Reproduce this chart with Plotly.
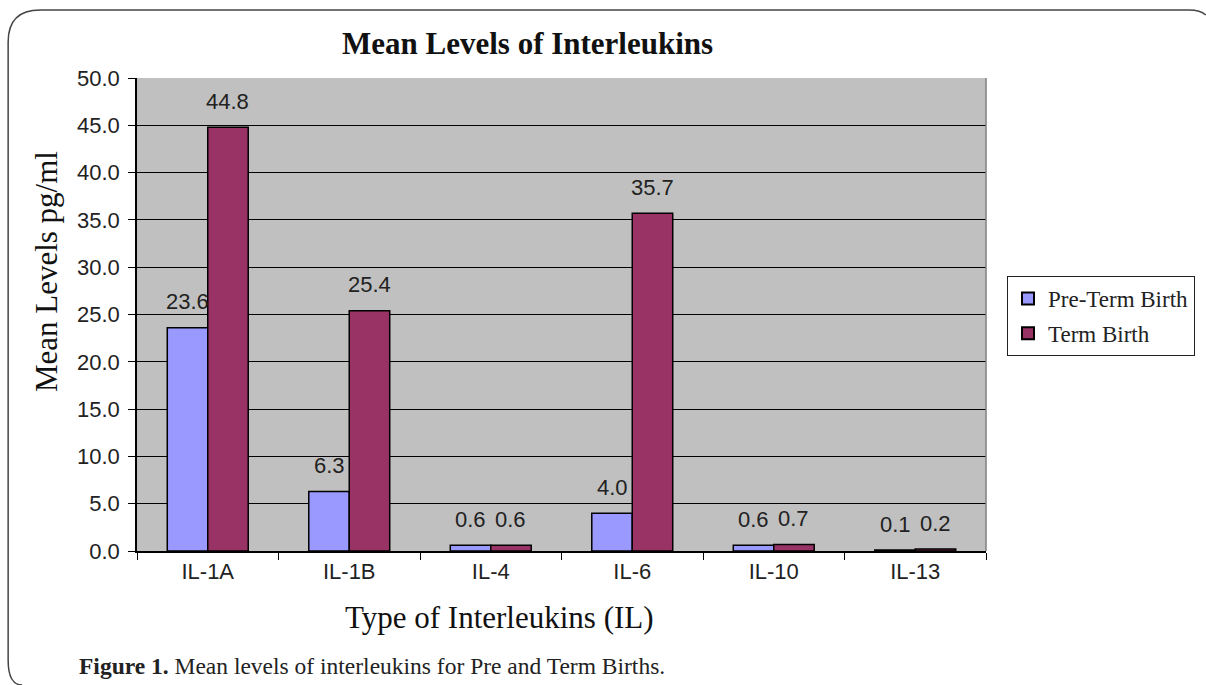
import plotly.graph_objects as go

categories = ["IL-1A", "IL-1B", "IL-4", "IL-6", "IL-10", "IL-13"]
preterm = [23.6, 6.3, 0.6, 4.0, 0.6, 0.1]
term = [44.8, 25.4, 0.6, 35.7, 0.7, 0.2]
series_names = ["Pre-Term Birth", "Term Birth"]
y_ticks = [0, 5, 10, 15, 20, 25, 30, 35, 40, 45, 50]

W, H = 1206, 685
L, R, T, B = 137, 987, 78, 551  # plot area in pixels


def px(x):
    return (x - L) / (R - L)


def py(y):
    return (B - y) / (B - T)


SERIF = "Liberation Serif"
SANS = "Liberation Sans"

fig = go.Figure()
fig.add_trace(go.Bar(x=categories, y=preterm, name=series_names[0], legendgroup="a",
                     marker=dict(color="#9999FF", line=dict(color="black", width=1.5))))
fig.add_trace(go.Bar(x=categories, y=term, name=series_names[1], legendgroup="b",
                     marker=dict(color="#993366", line=dict(color="black", width=1.5))))

annotations = []
for cat, a, b in zip(categories, preterm, term):
    annotations.append(dict(x=cat, y=a, xref="x", yref="y", text=f"{a:.1f}", showarrow=False,
                            xshift=-20, yshift=26, yanchor="middle",
                            font=dict(family=SANS, size=22, color="#222")))
    annotations.append(dict(x=cat, y=b, xref="x", yref="y", text=f"{b:.1f}", showarrow=False,
                            xshift=20, yshift=26, yanchor="middle",
                            font=dict(family=SANS, size=22, color="#222")))

annotations += [
    dict(text="<b>Mean Levels of Interleukins</b>", x=px(528), y=py(43), xref="paper", yref="paper",
         showarrow=False, xanchor="center", yanchor="middle", font=dict(family=SERIF, size=31, color="#111")),
    dict(text="Mean Levels pg/ml", x=px(46), y=py(272), xref="paper", yref="paper", textangle=-90,
         showarrow=False, xanchor="center", yanchor="middle", font=dict(family=SERIF, size=31, color="#111")),
    dict(text="Type of Interleukins (IL)", x=px(500), y=py(617), xref="paper", yref="paper",
         showarrow=False, xanchor="center", yanchor="middle", font=dict(family=SERIF, size=31, color="#111")),
    dict(text="<b>Figure 1.</b> Mean levels of interleukins for Pre and Term Births.", x=px(77), y=py(666),
         xref="paper", yref="paper", showarrow=False, xanchor="left", yanchor="middle",
         font=dict(family=SERIF, size=23.5, color="#222")),
]

border_path = (f"M {px(22)},{py(685)} Q {px(8)},{py(685)} {px(8)},{py(660)} "
               f"L {px(8)},{py(42)} Q {px(8)},{py(10)} {px(40)},{py(10)} "
               f"L {px(1190)},{py(10)} Q {px(1202)},{py(10)} {px(1207)},{py(15)}")

shapes = [
    dict(type="path", path=border_path, xref="paper", yref="paper",
         line=dict(color="#444", width=1.5)),
    dict(type="line", x0=1, x1=1, y0=0, y1=1, xref="paper", yref="paper",
         line=dict(color="#808080", width=1.5)),
]

fig.update_layout(
    width=W, height=H,
    margin=dict(l=L, r=W - R, t=T, b=H - B, pad=0),
    paper_bgcolor="white", plot_bgcolor="#C0C0C0",
    barmode="group", bargap=0.428, bargroupgap=0,
    showlegend=True,
    legend=dict(x=px(1007), y=py(276), xanchor="left", yanchor="top",
                bordercolor="#222", borderwidth=1, bgcolor="white",
                font=dict(family=SERIF, size=23, color="#222"), tracegroupgap=2,
                itemsizing="constant"),
    annotations=annotations,
    shapes=shapes,
    xaxis=dict(showline=True, linecolor="black", linewidth=1.5, ticks="outside", tickson="boundaries",
               ticklen=7, tickcolor="black", tickfont=dict(family=SANS, size=22, color="#222"),
               showgrid=False, fixedrange=True),
    yaxis=dict(range=[0, 50], tickvals=y_ticks, tickformat=".1f", showline=True, linecolor="black",
               linewidth=1.5, ticks="outside", ticklen=7, tickcolor="black", ticklabelstandoff=4,
               tickfont=dict(family=SANS, size=22, color="#222"),
               showgrid=True, gridcolor="black", gridwidth=1, zeroline=False, fixedrange=True),
)

fig.write_html("out.html", config={"displayModeBar": False},
               post_script="document.body.style.margin='0';document.body.style.overflow='hidden';")
